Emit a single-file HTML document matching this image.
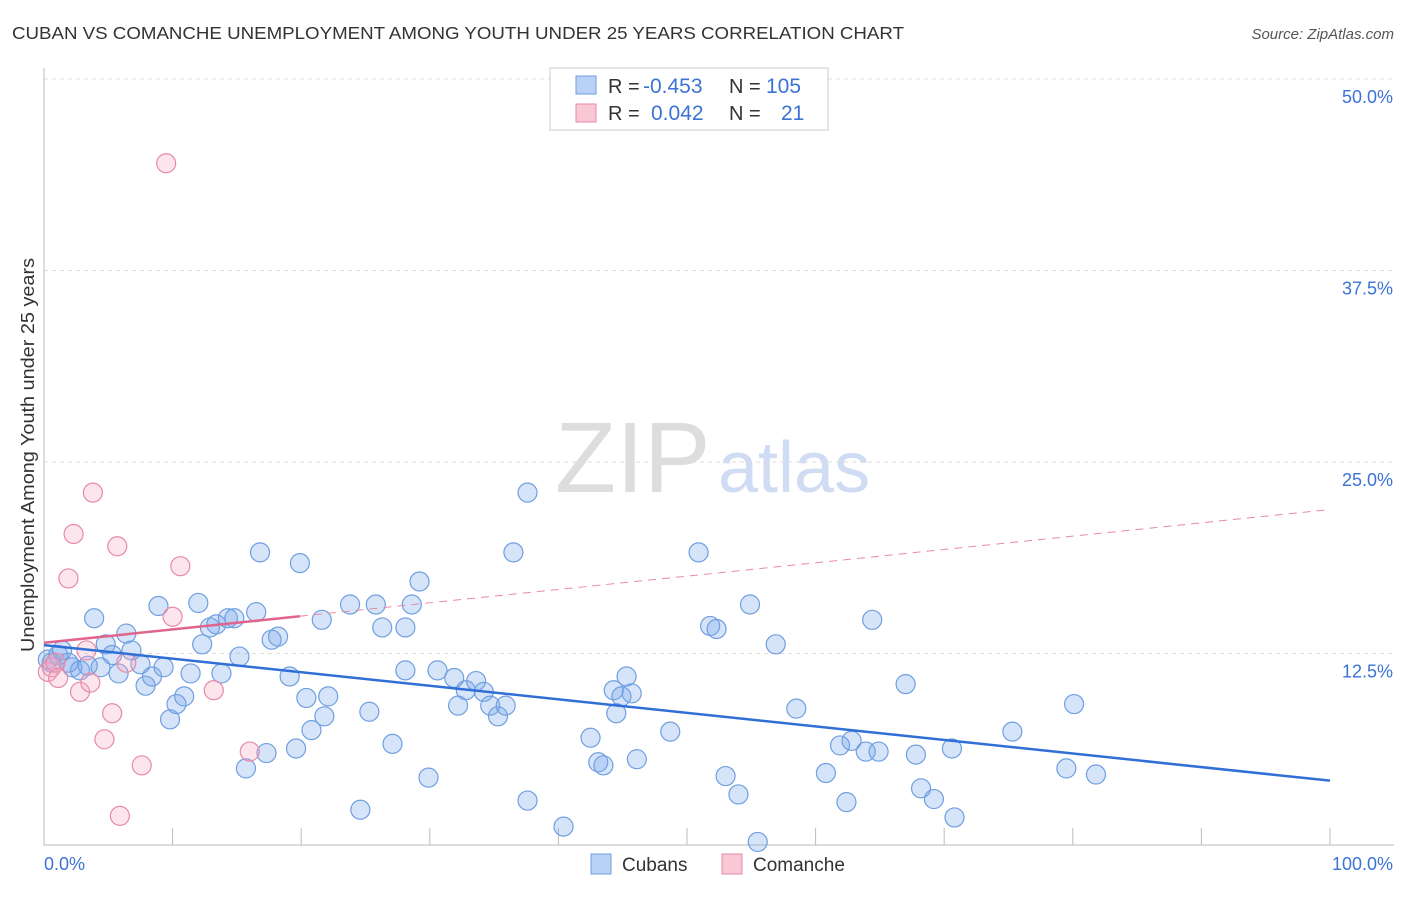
<!DOCTYPE html>
<html><head><meta charset="utf-8"><style>
body{margin:0;background:#fff;font-family:"Liberation Sans",sans-serif}
svg text{font-family:"Liberation Sans",sans-serif}
</style></head><body>
<svg id="chart" width="1406" height="892">
<text x="12" y="39" font-size="17.5" fill="#333" textLength="892" lengthAdjust="spacingAndGlyphs">CUBAN VS COMANCHE UNEMPLOYMENT AMONG YOUTH UNDER 25 YEARS CORRELATION CHART</text>
<text x="1394" y="39" font-size="15" fill="#555" font-style="italic" text-anchor="end">Source: ZipAtlas.com</text>
<text x="555" y="492" font-size="100" fill="#ddd" font-family="Liberation Serif,serif">ZIP</text>
<text x="718" y="492" font-size="72" fill="#cfdcf3">atlas</text>
<text transform="translate(34,455) rotate(-90)" font-size="18" fill="#333" text-anchor="middle" textLength="394" lengthAdjust="spacingAndGlyphs">Unemployment Among Youth under 25 years</text>
<g id="grid"></g><g id="marks"></g>
<g>
<rect x="550" y="68" width="278" height="62" fill="#fff" stroke="#ccc"/>
<rect x="576" y="76" width="20" height="18" fill="#b9d1f4" stroke="#6f9fe0"/>
<text x="608" y="93" font-size="20" fill="#333">R =</text><text x="643" y="93" font-size="21" fill="#3b73d6">-0.453</text>
<text x="729" y="93" font-size="20" fill="#333">N =</text><text x="766" y="93" font-size="21" fill="#3b73d6">105</text>
<rect x="576" y="104" width="20" height="18" fill="#f8c8d6" stroke="#e88aa6"/>
<text x="608" y="120" font-size="20" fill="#333">R =</text><text x="651" y="120" font-size="21" fill="#3b73d6">0.042</text>
<text x="729" y="120" font-size="20" fill="#333">N =</text><text x="781" y="120" font-size="21" fill="#3b73d6">21</text>
</g>
<g>
<rect x="591" y="854" width="20" height="20" fill="#b9d1f4" stroke="#6f9fe0"/>
<text x="622" y="871" font-size="19" fill="#333">Cubans</text>
<rect x="722" y="854" width="20" height="20" fill="#f8c8d6" stroke="#e88aa6"/>
<text x="753" y="871" font-size="19" fill="#333">Comanche</text>
</g>
</svg>
<script>
const cubanX=[0.3,0.6,1.1,1.4,1.9,2.2,2.8,3.4,3.9,4.4,4.8,5.3,5.8,6.4,6.8,7.5,7.9,8.4,8.9,9.3,9.8,10.3,10.9,11.4,12.0,12.3,12.9,13.4,13.8,14.3,14.8,15.2,15.7,16.5,16.8,17.3,17.7,18.2,19.1,19.6,19.9,20.4,20.8,21.6,21.8,22.1,23.8,24.6,25.3,25.8,26.3,27.1,28.1,28.6,28.1,29.2,29.9,30.6,31.9,32.2,32.8,33.6,34.2,34.7,35.3,35.9,36.5,37.6,37.6,40.4,42.5,43.1,43.5,44.3,44.5,44.9,45.3,45.7,46.1,48.7,50.9,51.8,52.3,53.0,54.0,54.9,56.9,55.5,58.5,60.8,61.9,62.4,62.8,63.9,64.4,64.9,67.0,67.8,68.2,69.2,70.6,70.8,75.3,79.5,80.1,81.8];
const cubanY=[12.1,11.9,12.4,12.7,11.9,11.6,11.4,11.7,14.8,11.6,13.1,12.4,11.2,13.8,12.7,11.8,10.4,11.0,15.6,11.6,8.2,9.2,9.7,11.2,15.8,13.1,14.2,14.4,11.2,14.8,14.8,12.3,5.0,15.2,19.1,6.0,13.4,13.6,11.0,6.3,18.4,9.6,7.5,14.7,8.4,9.7,15.7,2.3,8.7,15.7,14.2,6.6,11.4,15.7,14.2,17.2,4.4,11.4,10.9,9.1,10.1,10.7,10.0,9.1,8.4,9.1,19.1,23.0,2.9,1.2,7.0,5.4,5.2,10.1,8.6,9.7,11.0,9.9,5.6,7.4,19.1,14.3,14.1,4.5,3.3,15.7,13.1,0.2,8.9,4.7,6.5,2.8,6.8,6.1,14.7,6.1,10.5,5.9,3.7,3.0,6.3,1.8,7.4,5.0,9.2,4.6];
const comX=[0.3,0.6,0.9,1.1,1.9,2.3,2.8,3.3,3.6,3.8,4.7,5.3,5.7,6.4,7.6,10.0,10.6,9.5,13.2,5.9,16.0];
const comY=[11.3,11.6,11.9,10.9,17.4,20.3,10.0,12.7,10.6,23.0,6.9,8.6,19.5,11.9,5.2,14.9,18.2,44.5,10.1,1.9,6.1];
const cubanTrend=[13.05,4.2];   // y at x=0 and x=100
const comTrend=[13.2,21.9];     // y at x=0 and x=100
const comSolidEnd=19.9;
const yTicks=[12.5,25.0,37.5,50.0];
const xTicks=[10,20,30,40,50,60,70,80,90,100];
const X0=44,X1=1330,Y0=845,Y1=79;
const sx=v=>X0+(X1-X0)*v/100, sy=v=>Y0+(Y1-Y0)*v/50;
const NS='http://www.w3.org/2000/svg';
function mk(t,a,p){const e=document.createElementNS(NS,t);for(const k in a)e.setAttribute(k,a[k]);p.appendChild(e);return e;}
const grid=document.getElementById('grid'),marks=document.getElementById('marks');
yTicks.forEach(t=>{
 const l=mk('line',{x1:X0,x2:1394,y1:sy(t),y2:sy(t),stroke:'#ddd','stroke-dasharray':'4,4'},grid);
 
 
 const tx=mk('text',{x:1393,y:sy(t)+24,'font-size':18,fill:'#3b73d6','text-anchor':'end'},grid);
 tx.textContent=t.toFixed(1)+'%';
 
 
});
const ax=mk('line',{x1:X0,x2:X0,y1:68,y2:Y0,stroke:'#bbb'},grid);


const bx=mk('line',{x1:X0,x2:1394,y1:Y0,y2:Y0,stroke:'#bbb'},grid);


xTicks.forEach(t=>{
 const l=mk('line',{x1:sx(t),x2:sx(t),y1:828,y2:Y0,stroke:'#bbb'},grid);
 
 
});
const xl0=mk('text',{x:44,y:870,'font-size':18,fill:'#3b73d6'},grid);xl0.textContent='0.0%';


const xl1=mk('text',{x:1393,y:870,'font-size':18,fill:'#3b73d6','text-anchor':'end'},grid);xl1.textContent='100.0%';


cubanX.forEach((v,i)=>{
 const c=mk('circle',{cx:sx(v),cy:sy(cubanY[i]),r:9.5,fill:'rgba(120,165,235,0.3)',stroke:'#6f9fe0','stroke-width':1.2},marks);
 
 
});
comX.forEach((v,i)=>{
 const c=mk('circle',{cx:sx(v),cy:sy(comY[i]),r:9.5,fill:'rgba(245,170,195,0.3)',stroke:'#e88aa6','stroke-width':1.2},marks);
 
 
});
const ct=v=>comTrend[0]+(comTrend[1]-comTrend[0])*v/100;
const l1=mk('line',{x1:sx(0),y1:sy(cubanTrend[0]),x2:sx(100),y2:sy(cubanTrend[1]),stroke:'#2f6fd6','stroke-width':2.5},marks);


const l2=mk('line',{x1:sx(0),y1:sy(ct(0)),x2:sx(comSolidEnd),y2:sy(ct(comSolidEnd)),stroke:'#e0648c','stroke-width':2.5},marks);


const l3=mk('line',{x1:sx(comSolidEnd),y1:sy(ct(comSolidEnd)),x2:sx(100),y2:sy(ct(100)),stroke:'#e88aa6','stroke-width':1,'stroke-dasharray':'8,6'},marks);


</script>
</body></html>
